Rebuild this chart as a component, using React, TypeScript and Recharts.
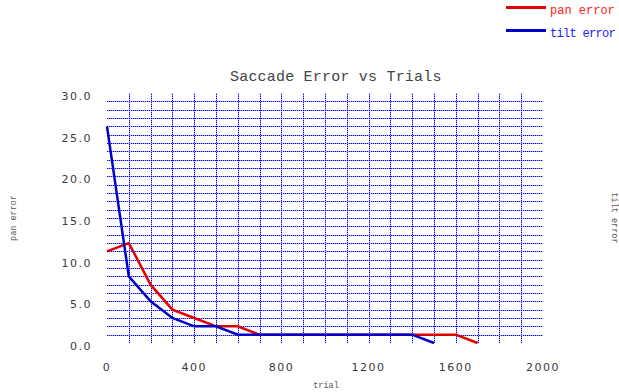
import React from 'react';
import { LineChart, Line, XAxis, YAxis, ReferenceLine } from 'recharts';

const trials = [0, 100, 200, 300, 400, 500, 600, 700, 800, 900, 1000, 1100, 1200, 1300, 1400, 1500, 1600, 1700];
const panError = [11, 12, 7, 4, 3, 2, 2, 1, 1, 1, 1, 1, 1, 1, 1, 1, 1, 0];
const tiltError = [26, 8, 5, 3, 2, 2, 1, 1, 1, 1, 1, 1, 1, 1, 1, 0];
const xTicks = [0, 400, 800, 1200, 1600, 2000];
const yTicks = [0, 5, 10, 15, 20, 25, 30];
const gridX = [100, 200, 300, 400, 500, 600, 700, 800, 900, 1000, 1100, 1200, 1300, 1400, 1500, 1600, 1700, 1800, 1900];
const gridY = [1, 2, 3, 4, 5, 6, 7, 8, 9, 10, 11, 12, 13, 14, 15, 16, 17, 18, 19, 20, 21, 22, 23, 24, 25, 26, 27, 28, 29];
const seriesNames = ['pan error', 'tilt error'];
const seriesKeys = ['pan', 'tilt'];
const seriesColors = ['#e00000', '#0000cc'];
const legendTextColors = ['#ff2020', '#2020ff'];
const chartTitle = 'Saccade Error vs Trials';
const xLabel = 'trial';

const data = trials.map((t, i) => ({
  trial: t,
  pan: i < panError.length ? panError[i] : null,
  tilt: i < tiltError.length ? tiltError[i] : null,
}));

const tickFont = { fontFamily: 'DejaVu Sans', fontSize: 11, fill: '#3a3a3a', letterSpacing: 1.5 };
const labelFont = { fontFamily: 'Liberation Mono', fontSize: 8.5, fill: '#555' };
const gridStroke = '#0000ff';
const gridLight = '#a8a8ff';

const LeftTick = (p: any) => (
  <text x={p.x} y={p.y + 3} dy="0.355em" textAnchor="end" {...tickFont}>
    {Number(p.payload.value).toFixed(1)}
  </text>
);
const RightTick = (p: any) => (
  <text x={p.x} y={p.y + 3} dy="0.355em" textAnchor="start" {...tickFont}>
    {p.payload.value}
  </text>
);
const BottomTick = (p: any) => (
  <text x={p.x} y={p.y} dy="0.355em" textAnchor="middle" {...tickFont}>
    {p.payload.value}
  </text>
);

const GridShape = (p: any) => {
  const x1 = Number(p.x1), x2 = Number(p.x2), y1 = Number(p.y1), y2 = Number(p.y2);
  const horiz = Math.abs(y1 - y2) < 0.01;
  const yy = Math.round(y1) + 0.5;
  const xx = Math.round(x1) + 0.5;
  const c = horiz ? { x1, x2, y1: yy, y2: yy } : { x1: xx, x2: xx, y1, y2 };
  return (
    <g>
      <line {...c} stroke={gridLight} strokeWidth={1} />
      <line {...c} stroke={gridStroke} strokeWidth={1} strokeDasharray="1 1" />
    </g>
  );
};

export default function App() {
  return (
    <div style={{ position: 'absolute', left: 0, top: 0, width: 619, height: 392, background: '#fff' }}>
      <LineChart
        width={619}
        height={392}
        data={data}
        margin={{ top: 93, bottom: 19, left: 47, right: 26 }}
      >
        <XAxis
          dataKey="trial"
          type="number"
          domain={[0, 2000]}
          ticks={xTicks}
          height={30}
          axisLine={false}
          tickLine={false}
          tickSize={0}
          tickMargin={24}
          tick={BottomTick}
          label={{
            content: (props: any) => {
              const vb = props.viewBox;
              return (
                <text x={vb.x + vb.width / 2 + 1} y={385} dy="0.355em" textAnchor="middle" {...labelFont}>
                  {xLabel}
                </text>
              );
            },
          }}
        />
        <YAxis
          type="number"
          domain={[0, 30]}
          ticks={yTicks}
          width={60}
          axisLine={false}
          tickLine={false}
          tickSize={0}
          tickMargin={15}
          tick={LeftTick}
          label={{
            content: (props: any) => {
              const vb = props.viewBox;
              const cx = 13;
              const cy = vb.y + vb.height / 2;
              return (
                <text x={cx} y={cy} dy="0.355em" textAnchor="middle" transform={`rotate(-90 ${cx} ${cy})`} {...labelFont}>
                  {seriesNames[0]}
                </text>
              );
            },
          }}
        />
        <YAxis
          yAxisId="right"
          orientation="right"
          type="number"
          domain={[0, 30]}
          ticks={yTicks}
          width={50}
          axisLine={false}
          tickLine={false}
          tickSize={0}
          tickMargin={18}
          tick={RightTick}
          label={{
            content: (props: any) => {
              const vb = props.viewBox;
              const cx = 615;
              const cy = vb.y + vb.height / 2;
              return (
                <text x={cx} y={cy} dy="0.355em" textAnchor="middle" transform={`rotate(90 ${cx} ${cy})`} {...labelFont}>
                  {seriesNames[1]}
                </text>
              );
            },
          }}
        />
        {gridY.map((v) => (
          <ReferenceLine key={`gy${v}`} y={v} shape={GridShape} stroke={gridStroke} />
        ))}
        {gridX.map((v) => (
          <ReferenceLine key={`gx${v}`} x={v} shape={GridShape} stroke={gridStroke} />
        ))}
        {seriesKeys.map((k, i) => (
          <Line
            key={k}
            type="linear"
            dataKey={k}
            name={seriesNames[i]}
            stroke={seriesColors[i]}
            strokeWidth={2.5}
            dot={false}
            activeDot={false}
            isAnimationActive={false}
          />
        ))}
      </LineChart>
      <div
        style={{
          position: 'absolute',
          left: 230,
          top: 69,
          fontFamily: 'Liberation Mono',
          fontSize: 15,
          lineHeight: '18px',
          letterSpacing: 0.2,
          color: '#444',
          whiteSpace: 'nowrap',
        }}
      >
        {chartTitle}
      </div>
      {seriesNames.map((n, i) => (
        <div key={n} style={{ position: 'absolute', left: 505, top: 2 + i * 22.5, height: 18, width: 114 }}>
          <div style={{ position: 'absolute', left: 1, top: 4, width: 40, height: 3, background: seriesColors[i] }} />
          <div
            style={{
              position: 'absolute',
              left: 45,
              top: 0,
              fontFamily: 'Liberation Mono',
              fontSize: 12,
              lineHeight: '18px',
              letterSpacing: i === 1 ? -0.7 : 0,
              color: legendTextColors[i],
              whiteSpace: 'nowrap',
            }}
          >
            {n}
          </div>
        </div>
      ))}
    </div>
  );
}
